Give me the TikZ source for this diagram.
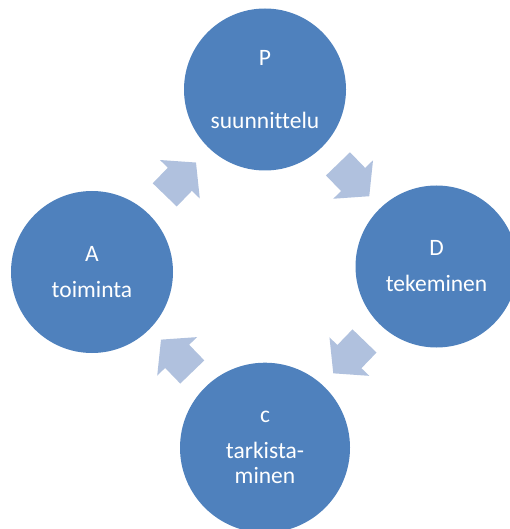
\documentclass[tikz,border=0pt]{standalone}
\usepackage{fontspec}
\setmainfont{Carlito}[Ligatures=NoCommon]
\usepackage{pgf, tikz}
\usetikzlibrary{shapes.arrows, calc}
\definecolor{pdcablue}{HTML}{4F81BD}
\definecolor{pdcalight}{RGB}{176,193,222}
\tikzset{
    phasenode/.style={
        circle,
        fill=pdcablue, % ympyrän täyttö
        draw=none,
        minimum size=162pt,
        inner sep=0,
        align=center,
        text=white,
        font=\fontsize{23.5}{25}\selectfont
    },
    cyclearrow/.style={
        single arrow,
        fill=pdcalight, % vaalea nuoli
        draw=none,
        minimum height=45pt,
        single arrow head extend=11pt,
        single arrow tip angle=100,
        inner sep=0
    }
}
\begin{document}
\begin{tikzpicture}[x=1pt, y=-1pt]
            \clip (0,0) rectangle (510,529);
            % vaiheet
            \node[phasenode] (P) at (265,89.5) {P\\[38pt]suunnittelu};
            \node[phasenode] (D) at (436.5,266.5) {D\\[11pt]tekeminen};
            \node[phasenode, minimum size=170pt] (C) at (265,447.7) {c\\[11pt]tarkista-\\minen};
            \node[phasenode] (A) at (92,272) {A\\[11pt]toiminta};
            % nuolet
            \node[cyclearrow, rotate=46] (ap) at ($(A)!0.5!(P)+(-3,3)$) {\rule{0pt}{33pt}};
            \node[cyclearrow, rotate=-46] (pd) at ($(P)!0.5!(D)+(-2,-3)$) {\rule{0pt}{33pt}};
            \node[cyclearrow, rotate=-134] (dc) at ($(D)!0.5!(C)+(3,-5)$) {\rule{0pt}{33pt}};
            \node[cyclearrow, rotate=134] (ca) at ($(C)!0.5!(A)+(3,1)$) {\rule{0pt}{33pt}};
\end{tikzpicture}
\end{document}
